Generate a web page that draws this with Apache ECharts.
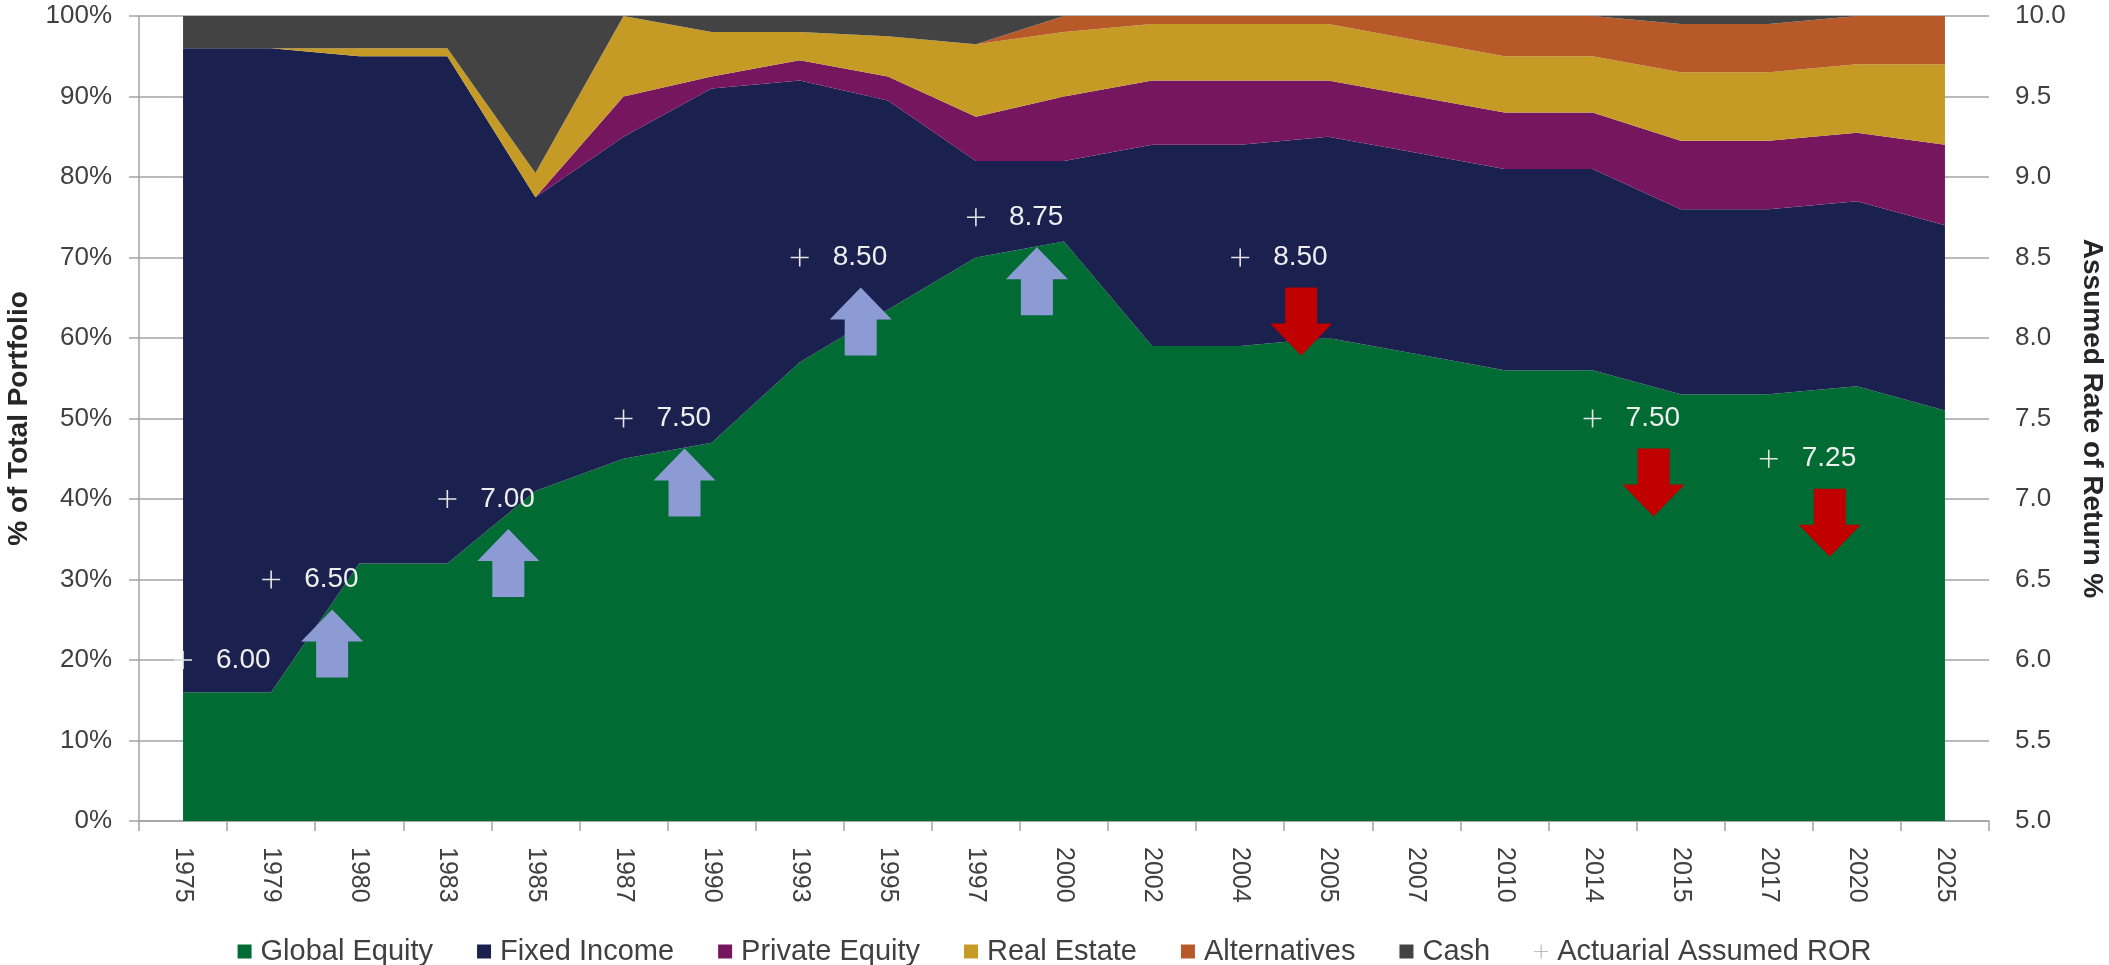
<!DOCTYPE html>
<html>
<head>
<meta charset="utf-8">
<title>Asset Allocation and Assumed Rate of Return</title>
<script src="https://cdn.jsdelivr.net/npm/echarts@6/dist/echarts.min.js"></script>
<style>
  html, body { margin: 0; padding: 0; background: #ffffff; }
  #chart { width: 2109px; height: 965px; }
</style>
</head>
<body>
<div id="chart"></div>
<script>
// Fiscal years shown on the category axis
const years = ['1975','1979','1980','1983','1985','1987','1990','1993','1995','1997','2000',
               '2002','2004','2005','2007','2010','2014','2015','2017','2020','2025'];

// Portfolio allocation by asset class (% of total portfolio)
const globalEquity  = [16, 16, 32, 32, 41, 45, 47, 57, 63.5, 70, 72, 59, 59, 60, 58, 56, 56, 53, 53, 54, 51];
const fixedIncome   = [80, 80, 63, 63, 36.5, 40, 44, 35, 26, 12, 10, 25, 25, 25, 25, 25, 25, 23, 23, 23, 23];
const privateEquity = [0, 0, 0, 0, 0, 5, 1.5, 2.5, 3, 5.5, 8, 8, 8, 7, 7, 7, 7, 8.5, 8.5, 8.5, 10];
const realEstate    = [0, 0, 1, 1, 3, 10, 5.5, 3.5, 5, 9, 8, 7, 7, 7, 7, 7, 7, 8.5, 8.5, 8.5, 10];
const alternatives  = [0, 0, 0, 0, 0, 0, 0, 0, 0, 0, 2, 1, 1, 1, 3, 5, 5, 6, 6, 6, 6];
const cash          = [4, 4, 4, 4, 19.5, 0, 2, 2, 2.5, 3.5, 0, 0, 0, 0, 0, 0, 0, 1, 1, 0, 0];

// Actuarial assumed rate of return (%), set in the years where it changed
const assumedROR = [6.00, 6.50, '-', 7.00, '-', 7.50, '-', 8.50, '-', 8.75, '-',
                    '-', 8.50, '-', '-', '-', 7.50, '-', 7.25, '-', '-'];

// Axis tick labels
const pctTicks = { min: 0, max: 100, step: 10 };
const rorTicks = { min: 5, max: 10, step: 0.5 };

const FONT = "'Liberation Sans', Arial, sans-serif";
const GRID_GRAY = '#a3a3a3';
const TEXT = '#404040';

const PLUS = 'path://M8.2,0h1.6v18h-1.6zM0,8.2h18v1.6h-18z';
const ARROW_UP = 'path://M31,0L62,32L47,32L47,68L15,68L15,32L0,32Z';
const ARROW_DOWN = 'path://M15,0L47,0L47,36L62,36L31,68L0,36L15,36Z';

// Up / down arrows next to each change of the assumed rate
const arrowData = [];
let prev = null;
assumedROR.forEach(function (v, i) {
  if (v === '-') return;
  if (prev !== null) {
    const up = v > prev;
    arrowData.push({
      value: [i, v],
      symbol: up ? ARROW_UP : ARROW_DOWN,
      itemStyle: { color: up ? '#8d9bd5' : '#c00000', opacity: 1 }
    });
  }
  prev = v;
});

function areaSeries(name, data, color) {
  return {
    name: name,
    type: 'line',
    stack: 'allocation',
    data: data,
    showSymbol: false,
    symbol: 'none',
    lineStyle: { width: 0, opacity: 0 },
    areaStyle: { color: color, opacity: 1 },
    itemStyle: { color: color },
    emphasis: { disabled: true }
  };
}

const chart = echarts.init(document.getElementById('chart'), null, { renderer: 'canvas' });

chart.setOption({
  animation: false,
  backgroundColor: '#ffffff',
  textStyle: { fontFamily: FONT },
  grid: { left: 139, right: 120, top: 16, bottom: 144, containLabel: false, outerBoundsMode: 'none' },
  legend: {
    left: 'center',
    top: 932,
    icon: 'rect',
    itemWidth: 14,
    itemHeight: 14,
    itemGap: 44,
    textStyle: { fontSize: 29, color: TEXT, fontFamily: FONT, padding: [0, 0, 0, 4] },
    data: [
      'Global Equity', 'Fixed Income', 'Private Equity', 'Real Estate', 'Alternatives', 'Cash',
      { name: 'Actuarial Assumed ROR', icon: PLUS, itemStyle: { color: '#bdbdbd', opacity: 1 } }
    ]
  },
  xAxis: {
    type: 'category',
    data: years,
    boundaryGap: true,
    axisLine: { show: true, lineStyle: { color: GRID_GRAY, width: 1.5 } },
    axisTick: { show: true, length: 10, lineStyle: { color: GRID_GRAY, width: 1.5 } },
    axisLabel: { interval: 0, rotate: -90, margin: 26, fontSize: 25, color: TEXT, fontFamily: FONT },
    splitLine: { show: false }
  },
  yAxis: [
    {
      type: 'value',
      position: 'left',
      min: pctTicks.min, max: pctTicks.max, interval: pctTicks.step,
      name: '% of Total Portfolio',
      nameLocation: 'middle',
      nameGap: 106,
      nameTextStyle: { fontSize: 28, fontWeight: 'bold', color: '#262626', fontFamily: FONT },
      axisLine: { show: true, lineStyle: { color: GRID_GRAY, width: 1.5 } },
      axisTick: { show: true, inside: false, length: 10, lineStyle: { color: GRID_GRAY, width: 1.5 } },
      axisLabel: { formatter: '{value}%', margin: 27, fontSize: 26, color: TEXT, fontFamily: FONT },
      splitLine: { show: true, lineStyle: { color: GRID_GRAY, width: 1.5 } }
    },
    {
      type: 'value',
      position: 'right',
      min: rorTicks.min, max: rorTicks.max, interval: rorTicks.step,
      name: 'Assumed Rate of Return %',
      nameLocation: 'middle',
      nameRotate: -90,
      nameGap: 89,
      nameTextStyle: { fontSize: 28, fontWeight: 'bold', color: '#262626', fontFamily: FONT },
      axisLine: { show: false },
      axisTick: { show: false },
      axisLabel: { formatter: function (v) { return v.toFixed(1); }, margin: 26, fontSize: 26, color: TEXT, fontFamily: FONT },
      splitLine: { show: false }
    }
  ],
  series: [
    areaSeries('Global Equity', globalEquity, '#016b34'),
    areaSeries('Fixed Income', fixedIncome, '#1b214f'),
    areaSeries('Private Equity', privateEquity, '#76165f'),
    areaSeries('Real Estate', realEstate, '#c59b26'),
    areaSeries('Alternatives', alternatives, '#b8592a'),
    areaSeries('Cash', cash, '#434343'),
    {
      name: 'Rate Change',
      type: 'scatter',
      yAxisIndex: 1,
      data: arrowData,
      symbolSize: [62, 68],
      symbolOffset: [61, 64],
      itemStyle: { opacity: 1 },
      silent: true,
      z: 4
    },
    {
      name: 'Actuarial Assumed ROR',
      type: 'scatter',
      yAxisIndex: 1,
      data: assumedROR,
      symbol: PLUS,
      symbolSize: 18,
      itemStyle: { color: '#e6e6e6', opacity: 1 },
      label: {
        show: true,
        position: 'right',
        distance: 24,
        fontSize: 28,
        color: '#eeeeee',
        fontFamily: FONT,
        formatter: function (p) { return Number(p.value).toFixed(2); }
      },
      z: 5
    }
  ]
});
</script>
</body>
</html>
